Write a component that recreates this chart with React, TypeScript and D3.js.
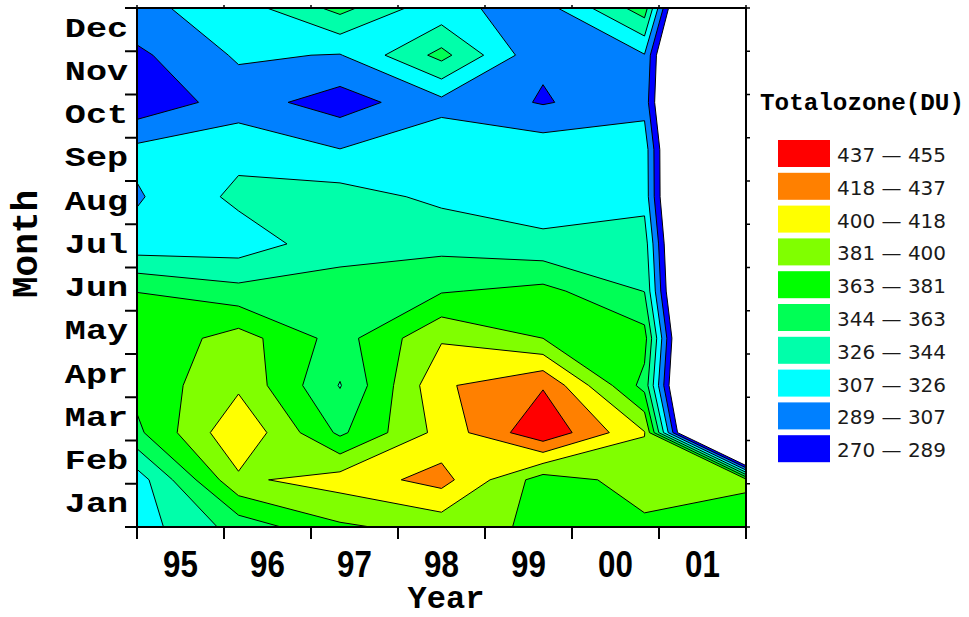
import React from "react";
import * as d3 from "d3";

// ---------- data ----------
const months = ["Jan", "Feb", "Mar", "Apr", "May", "Jun", "Jul", "Aug", "Sep", "Oct", "Nov", "Dec"];
const yearTicks = [1995, 1996, 1997, 1998, 1999, 2000, 2001, 2002];
const yearLabels = ["95", "96", "97", "98", "99", "00", "01"];

// total ozone grid (DU): one row per month (top = Dec), 7 samples across the years
const rowDec = [302.5, 316, 350, 312, 299, 354, 0];
const rowNov = [284.6, 309.5, 306, 350, 291, 306, 0];
const rowOct = [275.4, 297, 279.6, 301.5, 287, 300, 0];
const rowSep = [311.7, 320, 307.4, 318.7, 318, 318, 0];
const rowAug = [305, 330, 333, 321.5, 314.6, 319, 0];
const rowJul = [314, 315, 337, 338, 330.6, 335, 0];
const rowJun = [362.4, 350, 351.3, 361, 368, 343.5, 0];
const rowMay = [366, 389.3, 354.7, 397.5, 381, 370, 0];
const rowApr = [368.5, 396, 343, 415, 435, 356, 0];
const rowMar = [358.5, 415.3, 358.8, 406, 451, 400.5, 0];
const rowFeb = [316, 396, 407.8, 424.7, 372, 388.7, 387];
const rowJan = [316.4, 351.3, 378, 388, 378, 377.7, 365];

const levels = [270, 288.5, 307, 325.5, 344, 362.5, 381, 399.5, 418, 436.5, 455];
const levelColors = ["#0000FF", "#0080FF", "#00FFFF", "#00FFAA", "#00FF55", "#00FF00", "#80FF00", "#FFFF00", "#FF8000", "#FF0000"];

// ---------- layout ----------
const W = 969;
const H = 617;
const L = 137;
const R = 746;
const T = 8;
const B = 527;

export default function App() {
  const grid = [rowDec, rowNov, rowOct, rowSep, rowAug, rowJul, rowJun, rowMay, rowApr, rowMar, rowFeb, rowJan];
  const nx = grid[0].length;
  const ny = grid.length;
  const values = grid.flat();

  const contours = d3.contours().size([nx, ny]).thresholds(levels.slice(0, -1))(values);

  const gx = d3.scaleLinear().domain([0.5, nx - 0.5]).range([L, R]);
  const gy = d3.scaleLinear().domain([0.5, ny - 0.5]).range([T, B]);
  const path = d3.geoPath(
    d3.geoTransform({
      point(x: number, y: number) {
        // @ts-ignore
        this.stream.point(gx(x), gy(y));
      },
    })
  );

  const xScale = d3.scaleLinear().domain([1995, 2002]).range([L, R]);
  const yBand = d3.scaleBand().domain(months).range([B, T]);
  const monthEdges = d3.range(months.length + 1).map((i) => B - (i * (B - T)) / months.length);

  const legendItems = levels.slice(0, -1).map((lv, i) => ({
    lo: Math.round(lv + 0.001),
    hi: Math.round(levels[i + 1] + 0.001),
    color: levelColors[i],
  })).reverse();

  const mono = "'Liberation Mono', 'Courier New', monospace";

  return (
    <svg width={W} height={H} style={{ position: "absolute", left: 0, top: 0, background: "#fff" }}>
      <defs>
        <clipPath id="plotclip">
          <rect x={L} y={T} width={R - L} height={B - T} />
        </clipPath>
      </defs>
      <rect x={0} y={0} width={W} height={H} fill="#fff" />
      <g clipPath="url(#plotclip)">
        {contours.map((c, i) => (
          <path key={i} d={path(c as any) || ""} fill={levelColors[i]} stroke="#000" strokeWidth={1} strokeLinejoin="round" />
        ))}
      </g>

      {/* frame */}
      <rect x={L} y={T} width={R - L} height={B - T} fill="none" stroke="#000" strokeWidth={2} />

      {/* x ticks */}
      {yearTicks.map((yr) => (
        <g key={yr}>
          <line x1={xScale(yr)} x2={xScale(yr)} y1={B} y2={B + 12} stroke="#000" strokeWidth={2} />
          <line x1={xScale(yr)} x2={xScale(yr)} y1={T} y2={T - 3} stroke="#000" strokeWidth={1.5} />
        </g>
      ))}
      {yearLabels.map((lab, i) => (
        <text
          key={lab}
          transform={`translate(${xScale(yearTicks[i] + 0.5)},577) scale(0.87,1)`}
          textAnchor="middle"
          fontFamily="'Liberation Sans', Arial, sans-serif"
          fontWeight="bold"
          fontSize={36}
          fill="#000"
        >
          {lab}
        </text>
      ))}
      <text x={446} y={608} textAnchor="middle" fontFamily={mono} fontWeight="bold" fontSize={32} fill="#000">
        Year
      </text>

      {/* y ticks */}
      {monthEdges.map((y, i) => (
        <g key={i}>
          <line x1={L - 12} x2={L} y1={y} y2={y} stroke="#000" strokeWidth={2} />
          <line x1={R} x2={R + 4} y1={y} y2={y} stroke="#000" strokeWidth={1.5} />
        </g>
      ))}
      {months.map((m) => (
        <text
          key={m}
          transform={`translate(128,${(yBand(m) as number) + yBand.bandwidth() / 2 + 7}) scale(1.3,1)`}
          textAnchor="end"
          fontFamily={mono}
          fontWeight="bold"
          fontSize={27}
          fill="#000"
        >
          {m}
        </text>
      ))}
      <text transform="translate(37,244) rotate(-90)" textAnchor="middle" fontFamily={mono} fontWeight="bold" fontSize={36} fill="#000">
        Month
      </text>

      {/* legend */}
      <text x={760} y={110} fontFamily={mono} fontWeight="bold" fontSize={24} fill="#000" textLength={204} lengthAdjust="spacingAndGlyphs">
        Totalozone(DU)
      </text>
      {legendItems.map((it, i) => {
        const y0 = 140 + i * 32.8;
        return (
          <g key={i}>
            <rect x={778} y={y0} width={52} height={27} fill={it.color} />
            <text x={837} y={y0 + 22} fontFamily="'DejaVu Sans', Verdana, sans-serif" fontSize={20} fill="#1a1a1a">
              {`${it.lo} \u2014 ${it.hi}`}
            </text>
          </g>
        );
      })}
    </svg>
  );
}
